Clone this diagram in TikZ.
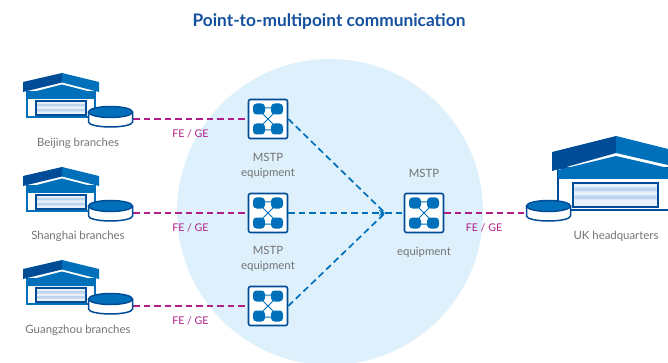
\documentclass[tikz,border=0pt]{standalone}
\usepackage{fontspec}
\setmainfont{Lato}
\usepackage{xcolor}
\usetikzlibrary{arrows.meta,calc}
\definecolor{mstpnavy}{RGB}{0,76,151}
\definecolor{mstpblue}{RGB}{0,112,186}
\definecolor{mstpsky}{RGB}{221,240,252}
\definecolor{mstpband}{RGB}{188,212,238}
\definecolor{mstppale}{RGB}{232,240,249}
\definecolor{linkpink}{RGB}{176,30,136}
\definecolor{labelgrey}{RGB}{115,115,115}
\definecolor{titleblue}{RGB}{20,80,160}
\tikzset{
    caption/.style={font=\fontsize{11.4}{14.5}\selectfont, text=labelgrey, align=center},
    linklabel/.style={font=\fontsize{10.6}{13}\selectfont, text=linkpink},
    switchbox/.style={draw=mstpnavy, line width=1.6pt, fill=white, rounded corners=2pt, minimum size=39pt, inner sep=0pt},
    diskbox/.style={minimum width=45pt, minimum height=19pt, inner sep=0pt},
    fiber/.style={mstpblue, line width=1.7pt, dash pattern=on 6.5pt off 4pt},
    tail/.style={linkpink, line width=1.7pt, dash pattern=on 6.5pt off 4pt},
    pics/xlink/.style={code={
        \draw[mstpblue, line width=1pt] (-9,-11) -- (9,-11) (-9,11) -- (9,11) (-8,-8) -- (8,8) (8,-8) -- (-8,8);
        \foreach \sx in {-9,9} \foreach \sy in {-10,10}
            \fill[mstpblue, rounded corners=3.5pt] (\sx-6,\sy-5.5) rectangle (\sx+6,\sy+5.5);
    }},
    pics/platter/.style={code={
        \draw[mstpnavy, line width=1.5pt, fill=white] (-22,-7) -- (-22,3) arc[start angle=180, end angle=0, x radius=22, y radius=5] -- (22,-7);
        \draw[mstpnavy, line width=1.5pt, fill=mstpblue] (0,-7) ellipse[x radius=22, y radius=5.5];
    }},
    pics/depot/.style={code={
        % walls and door
        \draw[mstpblue, line width=1.3pt, fill=white] (27,92) rectangle (95,117);
        \draw[mstpnavy, line width=1.2pt, fill=mstppale] (36,101) rectangle (86,115);
        \fill[mstpband] (37,104) rectangle (85,106.5) (37,109) rectangle (85,111.5);
        % gable and roof
        \fill[mstpblue] (27,93.5) -- (62,84.5) -- (95,93) -- (95,99) -- (27,99) -- cycle;
        \fill[mstpnavy] (23,82) -- (62,73) -- (62,82.5) -- (23,92) -- cycle;
        \fill[mstpblue] (62,73) -- (99,82) -- (99,92) -- (62,82.5) -- cycle;
    }},
    pics/headoffice/.style={code={
        \draw[mstpnavy, line width=1.7pt, fill=white] (668,168) -- (558,168) -- (558,210) -- (668,210);
        \draw[mstpnavy, line width=1.4pt, fill=mstppale] (573,183) rectangle (658,207);
        \fill[mstpband] (574.5,187.5) rectangle (656.5,191.5) (574.5,195.5) rectangle (656.5,199.5);
        \fill[mstpblue] (558,170) -- (616,156) -- (668,168) -- (668,179) -- (558,179) -- cycle;
        \fill[mstpnavy] (552,152) -- (616,136) -- (616,153) -- (552,171) -- cycle;
        \fill[mstpblue] (616,136) -- (668,149) -- (668,165) -- (616,153) -- cycle;
    }}
}
\begin{document}
\begin{tikzpicture}[x=1pt, y=-1pt]
    \useasboundingbox (0,0) rectangle (668,363);
    \begin{scope}
        \clip (0,0) rectangle (668,363);
        \fill[mstpsky] (330,212) circle[radius=153];
    \end{scope}

    \node[font=\fontsize{17.3}{20}\selectfont\bfseries, text=titleblue] (title) at (329,22) {Point-to-multipoint communication};

    % branches
    \pic at (0,0) {depot};
    \pic at (0,94) {depot};
    \pic at (0,187) {depot};
    \pic at (0,0) {headoffice};

    \node[diskbox] (diskA) at (110.5,119) {};
    \node[diskbox] (diskB) at (110.5,213) {};
    \node[diskbox] (diskC) at (110.5,306) {};
    \node[diskbox] (diskD) at (548.5,213) {};

    \node[switchbox] (mstpA) at (268,119) {};
    \node[switchbox] (mstpB) at (268,213) {};
    \node[switchbox] (mstpC) at (268,306) {};
    \node[switchbox] (mstpD) at (424,213) {};
    \coordinate (hub) at (385,213);

    % links
    \draw[tail] (diskA.east) -- (mstpA.west);
    \draw[tail] (diskB.east) -- (mstpB.west);
    \draw[tail] (diskC.east) -- (mstpC.west);
    \draw[tail] (mstpD.east) -- (diskD.west);
    \draw[fiber] (mstpA.east) -- (hub);
    \draw[fiber] (mstpC.east) -- (hub);
    \draw[fiber, -{Stealth[length=6pt,width=6pt]}] (mstpB.east) -- (hub);
    \draw[fiber] (hub) -- (mstpD.west);

    \foreach \n in {diskA,diskB,diskC,diskD} \pic at (\n) {platter};
    \foreach \n in {mstpA,mstpB,mstpC,mstpD} \pic at (\n) {xlink};

    \node[linklabel] (feA) at (190.5,134) {FE / GE};
    \node[linklabel] (feB) at (190.5,228) {FE / GE};
    \node[linklabel] (feC) at (190.5,321) {FE / GE};
    \node[linklabel] (feD) at (484,228) {FE / GE};

    \node[caption] (bj) at (78,143.5) {Beijing branches};
    \node[caption] (sh) at (78,236.5) {Shanghai branches};
    \node[caption] (gz) at (78,330.5) {Guangzhou branches};
    \node[caption] (uk) at (616,236.5) {UK headquarters};
    \node[caption] (capA) at (268,166) {MSTP\\equipment};
    \node[caption] (capB) at (268,259) {MSTP\\equipment};
    \node[caption] (capD) at (424,173) {MSTP};
    \node[caption] (capE) at (424,252) {equipment};
\end{tikzpicture}
\end{document}
